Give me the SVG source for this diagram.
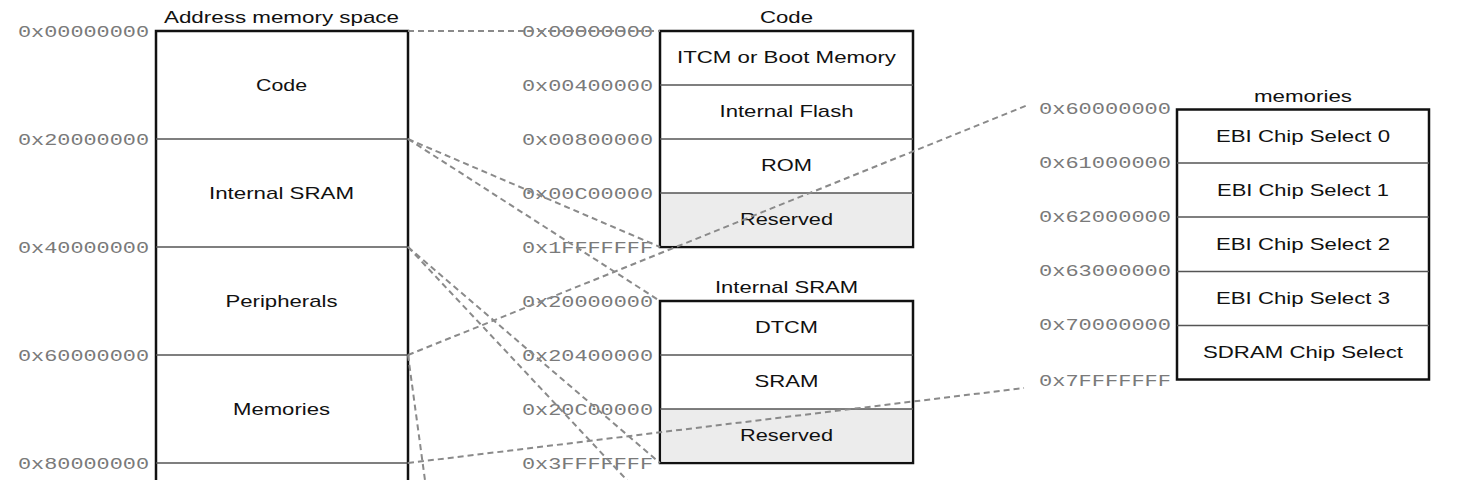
<svg xmlns="http://www.w3.org/2000/svg" width="1480" height="480" viewBox="0 0 1480 480">
<style>
.bg{fill:#ffffff}
.box{fill:#ffffff;stroke:#111111;stroke-width:2.5}
.res{fill:#ececec;stroke:none}
.div{stroke:#555555;stroke-width:1.4;fill:none}
.lbl{font-family:"Liberation Sans",Arial,sans-serif;font-size:17px;fill:#111111;text-anchor:middle}
.hex{font-family:"Liberation Mono","Courier New",monospace;font-size:17px;fill:#7a7a7a;text-anchor:end}
.con{stroke:#8a8a8a;stroke-width:2;stroke-dasharray:6 4;fill:none}
</style>
<rect class="bg" x="0" y="0" width="1480" height="480"/>

<g id="address-space">
  <rect class="box" x="156" y="31" width="252" height="540"/>
  <line class="div" x1="156" y1="139" x2="408" y2="139"/>
  <line class="div" x1="156" y1="247" x2="408" y2="247"/>
  <line class="div" x1="156" y1="355" x2="408" y2="355"/>
  <line class="div" x1="156" y1="463" x2="408" y2="463"/>
  <text class="lbl" x="281.5" y="23" textLength="235" lengthAdjust="spacingAndGlyphs">Address memory space</text>
  <text class="lbl" x="281.5" y="90.5" textLength="51" lengthAdjust="spacingAndGlyphs">Code</text>
  <text class="lbl" x="281.5" y="198.5" textLength="145" lengthAdjust="spacingAndGlyphs">Internal SRAM</text>
  <text class="lbl" x="281.5" y="306.5" textLength="112" lengthAdjust="spacingAndGlyphs">Peripherals</text>
  <text class="lbl" x="281.5" y="414.5" textLength="97" lengthAdjust="spacingAndGlyphs">Memories</text>
  <text class="hex" x="149" y="36.5" textLength="131" lengthAdjust="spacingAndGlyphs">0x00000000</text>
  <text class="hex" x="149" y="144.5" textLength="131" lengthAdjust="spacingAndGlyphs">0x20000000</text>
  <text class="hex" x="149" y="252.5" textLength="131" lengthAdjust="spacingAndGlyphs">0x40000000</text>
  <text class="hex" x="149" y="360.5" textLength="131" lengthAdjust="spacingAndGlyphs">0x60000000</text>
  <text class="hex" x="149" y="468.5" textLength="131" lengthAdjust="spacingAndGlyphs">0x80000000</text>
</g>

<g id="code">
  <rect class="box" x="660" y="31" width="253" height="216"/>
  <rect class="res" x="661.25" y="193" width="250.5" height="52.75"/>
  <line class="div" x1="660" y1="85" x2="913" y2="85"/>
  <line class="div" x1="660" y1="139" x2="913" y2="139"/>
  <line class="div" x1="660" y1="193" x2="913" y2="193"/>
  <text class="lbl" x="786.5" y="23" textLength="53" lengthAdjust="spacingAndGlyphs">Code</text>
  <text class="lbl" x="786.5" y="63" textLength="219" lengthAdjust="spacingAndGlyphs">ITCM or Boot Memory</text>
  <text class="lbl" x="786.5" y="117" textLength="134" lengthAdjust="spacingAndGlyphs">Internal Flash</text>
  <text class="lbl" x="786.5" y="171" textLength="51" lengthAdjust="spacingAndGlyphs">ROM</text>
  <text class="lbl" x="786.5" y="225" textLength="93" lengthAdjust="spacingAndGlyphs">Reserved</text>
  <text class="hex" x="653" y="36.5" textLength="131" lengthAdjust="spacingAndGlyphs">0x00000000</text>
  <text class="hex" x="653" y="90.5" textLength="131" lengthAdjust="spacingAndGlyphs">0x00400000</text>
  <text class="hex" x="653" y="144.5" textLength="131" lengthAdjust="spacingAndGlyphs">0x00800000</text>
  <text class="hex" x="653" y="198.5" textLength="131" lengthAdjust="spacingAndGlyphs">0x00C00000</text>
  <text class="hex" x="653" y="252.5" textLength="131" lengthAdjust="spacingAndGlyphs">0x1FFFFFFF</text>
</g>

<g id="internal-sram">
  <rect class="box" x="660" y="301" width="253" height="162"/>
  <rect class="res" x="661.25" y="409" width="250.5" height="52.75"/>
  <line class="div" x1="660" y1="355" x2="913" y2="355"/>
  <line class="div" x1="660" y1="409" x2="913" y2="409"/>
  <text class="lbl" x="786.5" y="293" textLength="143" lengthAdjust="spacingAndGlyphs">Internal SRAM</text>
  <text class="lbl" x="786.5" y="333" textLength="63" lengthAdjust="spacingAndGlyphs">DTCM</text>
  <text class="lbl" x="786.5" y="387" textLength="64" lengthAdjust="spacingAndGlyphs">SRAM</text>
  <text class="lbl" x="786.5" y="441" textLength="93" lengthAdjust="spacingAndGlyphs">Reserved</text>
  <text class="hex" x="653" y="306.5" textLength="131" lengthAdjust="spacingAndGlyphs">0x20000000</text>
  <text class="hex" x="653" y="360.5" textLength="131" lengthAdjust="spacingAndGlyphs">0x20400000</text>
  <text class="hex" x="653" y="414.5" textLength="131" lengthAdjust="spacingAndGlyphs">0x20C00000</text>
  <text class="hex" x="653" y="468.5" textLength="131" lengthAdjust="spacingAndGlyphs">0x3FFFFFFF</text>
</g>

<g id="memories">
  <rect class="box" x="1177" y="109.5" width="252" height="270"/>
  <line class="div" x1="1177" y1="163" x2="1429" y2="163"/>
  <line class="div" x1="1177" y1="217" x2="1429" y2="217"/>
  <line class="div" x1="1177" y1="271.5" x2="1429" y2="271.5"/>
  <line class="div" x1="1177" y1="325.5" x2="1429" y2="325.5"/>
  <text class="lbl" x="1303" y="101.5" textLength="98" lengthAdjust="spacingAndGlyphs">memories</text>
  <text class="lbl" x="1303" y="141.5" textLength="174" lengthAdjust="spacingAndGlyphs">EBI Chip Select 0</text>
  <text class="lbl" x="1303" y="195.5" textLength="172" lengthAdjust="spacingAndGlyphs">EBI Chip Select 1</text>
  <text class="lbl" x="1303" y="249.5" textLength="174" lengthAdjust="spacingAndGlyphs">EBI Chip Select 2</text>
  <text class="lbl" x="1303" y="303.5" textLength="174" lengthAdjust="spacingAndGlyphs">EBI Chip Select 3</text>
  <text class="lbl" x="1303" y="357.5" textLength="200" lengthAdjust="spacingAndGlyphs">SDRAM Chip Select</text>
  <text class="hex" x="1171" y="114" textLength="132" lengthAdjust="spacingAndGlyphs">0x60000000</text>
  <text class="hex" x="1171" y="168" textLength="132" lengthAdjust="spacingAndGlyphs">0x61000000</text>
  <text class="hex" x="1171" y="222" textLength="132" lengthAdjust="spacingAndGlyphs">0x62000000</text>
  <text class="hex" x="1171" y="276" textLength="132" lengthAdjust="spacingAndGlyphs">0x63000000</text>
  <text class="hex" x="1171" y="330" textLength="132" lengthAdjust="spacingAndGlyphs">0x70000000</text>
  <text class="hex" x="1171" y="385.5" textLength="132" lengthAdjust="spacingAndGlyphs">0x7FFFFFFF</text>
</g>

<g id="connectors">
  <line class="con" x1="408" y1="31" x2="660" y2="31"/>
  <line class="con" x1="408" y1="139" x2="660" y2="247"/>
  <line class="con" x1="408" y1="139" x2="660" y2="301"/>
  <line class="con" x1="408" y1="247" x2="660" y2="463"/>
  <line class="con" x1="408" y1="247" x2="640" y2="494"/>
  <line class="con" x1="408" y1="355" x2="1028" y2="105"/>
  <line class="con" x1="408" y1="463" x2="1024" y2="388"/>
  <line class="con" x1="408" y1="355" x2="427" y2="495"/>
</g>
</svg>
